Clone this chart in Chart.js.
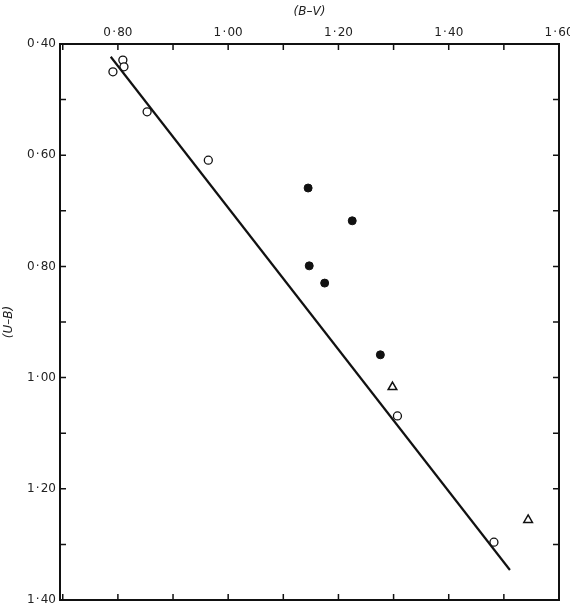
<!DOCTYPE html>
<html>
<head>
<meta charset="utf-8">
<script src="https://cdn.jsdelivr.net/npm/chart.js@4"></script>
<style>
  html, body { margin: 0; padding: 0; background: #fff; }
  canvas { display: block; }
</style>
</head>
<body>
<canvas id="cmd" width="570" height="610"></canvas>
<script>
// =====================
// Data
// =====================
const openBV   = [0.791, 0.809, 0.811, 0.853, 0.964, 1.307, 1.482];
const openUB   = [0.450, 0.429, 0.441, 0.522, 0.609, 1.069, 1.296];
const filledBV = [1.145, 1.225, 1.147, 1.175, 1.276];
const filledUB = [0.659, 0.718, 0.799, 0.830, 0.959];
const triBV    = [1.298, 1.544];
const triUB    = [1.017, 1.256];
const lineBV   = [0.787, 1.511];
const lineUB   = [0.423, 1.346];

const xTickValues = [0.80, 1.00, 1.20, 1.40, 1.60];
const yTickValues = [0.40, 0.60, 0.80, 1.00, 1.20, 1.40];
const minorStep = 0.1;

const toPoints = (xs, ys) => xs.map((x, i) => ({ x: x, y: ys[i] }));
// old-style decimal point, a little air around it
const fmt = v => v.toFixed(2).replace('.', '\u200a\u00b7\u200a');

// =====================
// Frame + inward ticks on all four sides
// =====================
const framePlugin = {
  id: 'frame',
  afterDraw(chart) {
    const { ctx, chartArea: a, scales } = chart;
    const xs = scales.x, ys = scales.y;
    ctx.save();
    ctx.strokeStyle = '#111';
    ctx.lineWidth = 2;
    ctx.strokeRect(a.left, a.top, a.right - a.left, a.bottom - a.top);
    ctx.lineWidth = 1.5;
    ctx.beginPath();
    for (let v = 0.70; v <= 1.6001; v += minorStep) {
      const px = xs.getPixelForValue(v);
      if (px <= a.left + 1 || px >= a.right - 1) continue;
      ctx.moveTo(px, a.top); ctx.lineTo(px, a.top + 6);
      ctx.moveTo(px, a.bottom); ctx.lineTo(px, a.bottom - 6);
    }
    for (let v = 0.40; v <= 1.4001; v += minorStep) {
      const py = ys.getPixelForValue(v);
      if (py <= a.top + 1 || py >= a.bottom - 1) continue;
      ctx.moveTo(a.left, py); ctx.lineTo(a.left + 6, py);
      ctx.moveTo(a.right, py); ctx.lineTo(a.right - 6, py);
    }
    ctx.stroke();
    ctx.restore();
  }
};

const tickFont = { family: 'DejaVu Sans', size: 12 };
const titleFont = { family: 'DejaVu Sans', size: 12, style: 'italic' };

new Chart(document.getElementById('cmd'), {
  type: 'scatter',
  data: {
    datasets: [
      {
        type: 'line',
        data: toPoints(lineBV, lineUB),
        borderColor: '#111',
        borderWidth: 2.2,
        pointRadius: 0,
        fill: false
      },
      {
        data: toPoints(openBV, openUB),
        pointStyle: 'circle',
        pointRadius: 4,
        borderWidth: 1.3,
        borderColor: '#111',
        backgroundColor: '#fff'
      },
      {
        data: toPoints(filledBV, filledUB),
        pointStyle: 'circle',
        pointRadius: 4,
        borderWidth: 1,
        borderColor: '#111',
        backgroundColor: '#111'
      },
      {
        data: toPoints(triBV, triUB),
        pointStyle: 'triangle',
        pointRadius: 5,
        borderWidth: 1.5,
        borderColor: '#111',
        backgroundColor: '#fff'
      }
    ]
  },
  options: {
    responsive: false,
    animation: false,
    layout: { padding: { right: 11, bottom: 10, top: 0, left: 0 } },
    plugins: { legend: { display: false }, tooltip: { enabled: false } },
    scales: {
      x: {
        type: 'linear',
        position: 'top',
        min: 0.695,
        max: 1.60,
        grid: { display: false, drawTicks: false },
        border: { display: false },
        afterBuildTicks: s => { s.ticks = xTickValues.map(v => ({ value: v })); },
        afterFit: s => { s.height = 44; s.paddingLeft = 0; s.paddingRight = 0; },
        ticks: { color: '#222', font: tickFont, padding: 4, callback: v => fmt(v) },
        title: {
          display: true,
          text: '(B\u2013V)',
          color: '#222',
          font: titleFont,
          padding: { top: 5, bottom: 0 }
        }
      },
      y: {
        type: 'linear',
        reverse: true,
        min: 0.40,
        max: 1.40,
        grid: { display: false, drawTicks: false },
        border: { display: false },
        afterBuildTicks: s => { s.ticks = yTickValues.map(v => ({ value: v })); },
        afterFit: s => { s.width = 60; s.paddingTop = 0; s.paddingBottom = 0; },
        ticks: { color: '#222', font: tickFont, padding: 4, callback: v => fmt(v) },
        title: {
          display: true,
          text: '(U\u2013B)',
          color: '#222',
          font: titleFont,
          padding: { top: 2, bottom: 0 }
        }
      }
    }
  },
  plugins: [framePlugin]
});
</script>
</body>
</html>
